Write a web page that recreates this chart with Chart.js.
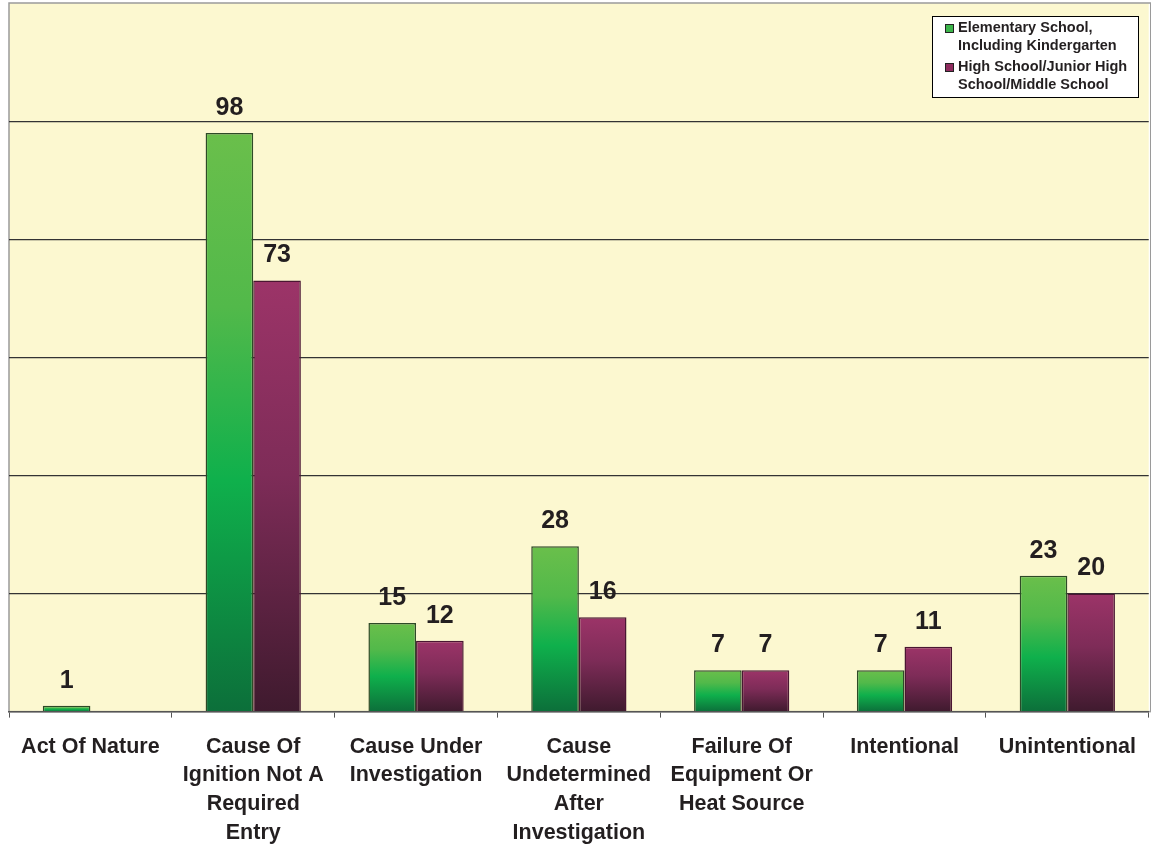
<!DOCTYPE html>
<html>
<head>
<meta charset="utf-8">
<script src="https://cdn.jsdelivr.net/npm/chart.js@4"></script>
<style>
  body { margin: 0; background: #fff; }
  #wrap { width: 1151px; height: 848px; position: relative; }
</style>
</head>
<body>
<div id="wrap"><canvas id="chart"></canvas></div>
<script>
// --------------------------------
// || Data
// --------------------------------

const categories = [
    'Act Of Nature',
    ['Cause Of', 'Ignition Not A', 'Required', 'Entry'],
    ['Cause Under', 'Investigation'],
    ['Cause', 'Undetermined', 'After', 'Investigation'],
    ['Failure Of', 'Equipment Or', 'Heat Source'],
    'Intentional',
    'Unintentional'
];

const elementary = [1, 98, 15, 28, 7, 7, 23];
const highSchool = [null, 73, 12, 16, 7, 11, 20];

const seriesNames = [
    ['Elementary School,', 'Including Kindergarten'],
    ['High School/Junior High', 'School/Middle School']
];

const yMax = 120;
const yStep = 20;

const FONT = 'Arial, "Liberation Sans", sans-serif';

// --------------------------------
// || Helpers
// --------------------------------

// vertical gradient per bar, top of bar -> axis
function barGradient(stops) {
    return ctx => {
        const chart = ctx.chart;
        const y = chart.scales && chart.scales.y;
        if (!y || ctx.type !== 'data' || ctx.parsed == null) return stops[0][1];
        const top = y.getPixelForValue(ctx.parsed.y);
        const base = y.getPixelForValue(0);
        if (!isFinite(top) || !isFinite(base) || top === base) return stops[0][1];
        const g = chart.ctx.createLinearGradient(0, top, 0, base);
        stops.forEach(s => g.addColorStop(s[0], s[1]));
        return g;
    };
}

const greenStops = [[0, '#6abf4b'], [0.3, '#52b94a'], [0.6, '#0fb04c'], [1, '#0c6f3a']];
const purpleStops = [[0, '#9c3468'], [0.45, '#7e2c58'], [1, '#3f1a2e']];

// plot area fill + border
const plotBackground = {
    id: 'plotBackground',
    beforeDraw(chart) {
        const { ctx, chartArea: a } = chart;
        ctx.save();
        ctx.fillStyle = '#fcf8d0';
        ctx.fillRect(a.left, a.top, a.right - a.left, a.bottom - a.top);
        ctx.strokeStyle = '#9a9a9a';
        ctx.lineWidth = 1.5;
        ctx.strokeRect(a.left, a.top, a.right - a.left + 2, a.bottom - a.top);
        ctx.restore();
    }
};

// numbers over the bars
const valueLabels = {
    id: 'valueLabels',
    afterDatasetsDraw(chart) {
        const ctx = chart.ctx;
        ctx.save();
        ctx.font = 'bold 25px ' + FONT;
        ctx.fillStyle = '#231f20';
        ctx.textAlign = 'center';
        ctx.textBaseline = 'middle';
        chart.data.datasets.forEach((ds, i) => {
            chart.getDatasetMeta(i).data.forEach((bar, j) => {
                const v = ds.data[j];
                if (v == null) return;
                ctx.fillText(String(v), bar.x, bar.y - 25);
            });
        });
        ctx.restore();
    }
};

// boxed legend with wrapped names
const boxLegend = {
    id: 'boxLegend',
    afterDraw(chart) {
        const ctx = chart.ctx;
        const x = 932, y = 16, w = 206, h = 81;
        ctx.save();
        ctx.fillStyle = '#ffffff';
        ctx.fillRect(x, y, w, h);
        ctx.strokeStyle = '#000';
        ctx.lineWidth = 1;
        ctx.strokeRect(x + 0.5, y + 0.5, w, h);
        ctx.font = 'bold 14.5px ' + FONT;
        ctx.textBaseline = 'middle';
        const colors = ['#3cb54a', '#8e2b5e'];
        let ly = y + 12;
        seriesNames.forEach((lines, i) => {
            ctx.fillStyle = colors[i];
            ctx.fillRect(x + 13, ly - 4, 9, 9);
            ctx.strokeStyle = '#222';
            ctx.strokeRect(x + 13.5, ly - 3.5, 8, 8);
            ctx.fillStyle = '#231f20';
            lines.forEach((t, k) => ctx.fillText(t, x + 26, ly + k * 18));
            ly += 39;
        });
        ctx.restore();
    }
};

// --------------------------------
// || Chart
// --------------------------------

new Chart(document.getElementById('chart'), {
    type: 'bar',
    data: {
        labels: categories,
        datasets: [{
            label: seriesNames[0].join(' '),
            data: elementary,
            backgroundColor: barGradient(greenStops),
            borderColor: '#2e4a27',
            borderWidth: 1.5,
            barPercentage: 1,
            categoryPercentage: 0.585
        }, {
            label: seriesNames[1].join(' '),
            data: highSchool,
            backgroundColor: barGradient(purpleStops),
            borderColor: '#4a1632',
            borderWidth: 1.5,
            barPercentage: 1,
            categoryPercentage: 0.585
        }]
    },
    options: {
        responsive: true,
        maintainAspectRatio: false,
        animation: false,
        layout: {
            padding: { left: 9, top: 3, right: -4, bottom: -14 }
        },
        plugins: {
            legend: { display: false },
            tooltip: { enabled: false }
        },
        scales: {
            x: {
                offset: true,
                border: { color: '#555', width: 1.5 },
                grid: {
                    offset: true,
                    drawOnChartArea: false,
                    drawTicks: true,
                    tickLength: 6,
                    color: '#555'
                },
                ticks: {
                    color: '#231f20',
                    padding: 15,
                    maxRotation: 0,
                    autoSkip: false,
                    font: { family: FONT, size: 21.5, weight: 'bold', lineHeight: 1.33 }
                }
            },
            y: {
                min: 0,
                max: yMax,
                border: { display: false },
                grid: {
                    drawTicks: false,
                    tickLength: 0,
                    lineWidth: 1.2,
                    color: c => (c.tick && (c.tick.value === yMax || c.tick.value === 0)) ? 'rgba(0,0,0,0)' : '#333'
                },
                ticks: { display: false, stepSize: yStep }
            }
        }
    },
    plugins: [plotBackground, valueLabels, boxLegend]
});
</script>
</body>
</html>
